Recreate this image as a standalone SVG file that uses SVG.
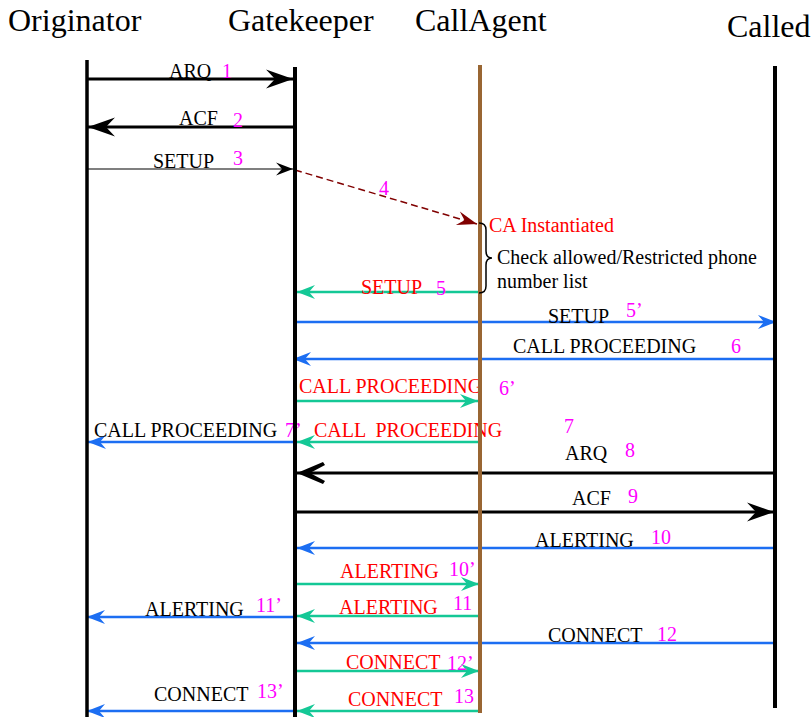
<svg xmlns="http://www.w3.org/2000/svg" width="811" height="717" viewBox="0 0 811 717">
<style>
.hd{font-family:"Liberation Serif","Times New Roman",serif;font-size:32px;fill:#000}
.lb{font-family:"Liberation Serif","Times New Roman",serif;font-size:20px;fill:#000;white-space:pre}
.rd{fill:#ff0000}
.nm{font-family:"Liberation Serif","Times New Roman",serif;font-size:20px;fill:#ff00ff;white-space:pre}
.life{stroke:#000;stroke-width:4;fill:none}
.ca{stroke:#996633;stroke-width:4;fill:none}
.blk{stroke:#000;stroke-width:3;fill:none;marker-end:url(#ahBig)}
.thin{stroke:#000;stroke-width:1.2;fill:none;marker-end:url(#ahThin)}
.blu{stroke:#1c6ef2;stroke-width:2.5;fill:none;marker-end:url(#ahBlue)}
.grn{stroke:#14c896;stroke-width:2.5;fill:none;marker-end:url(#ahGreen)}
.dsh{stroke:#800000;stroke-width:1.5;stroke-dasharray:7 4;fill:none;marker-end:url(#ahMar)}
</style>
<defs>
<marker id="ahBig" markerUnits="userSpaceOnUse" markerWidth="32" markerHeight="24" viewBox="-30 -12 32 24" refX="0" refY="0" orient="auto"><path d="M0,0 L-27,-9.5 L-18,0 L-27,9.5 Z" fill="#000"/></marker>
<marker id="ahChev" markerUnits="userSpaceOnUse" markerWidth="32" markerHeight="26" viewBox="-30 -13 32 26" refX="0" refY="0" orient="auto"><path d="M0,0 L-26,-11 L-28,-8 L-13,0 L-28,8 L-26,11 Z" fill="#000"/></marker>
<marker id="ahThin" markerUnits="userSpaceOnUse" markerWidth="22" markerHeight="16" viewBox="-20 -8 22 16" refX="0" refY="0" orient="auto"><path d="M0,0 L-17,-6.5 L-11,0 L-17,6.5 Z" fill="#000"/></marker>
<marker id="ahBlue" markerUnits="userSpaceOnUse" markerWidth="22" markerHeight="18" viewBox="-20 -9 22 18" refX="0" refY="0" orient="auto"><path d="M0,0 L-18,-7 L-12,0 L-18,7 Z" fill="#1c6ef2"/></marker>
<marker id="ahGreen" markerUnits="userSpaceOnUse" markerWidth="22" markerHeight="18" viewBox="-20 -9 22 18" refX="0" refY="0" orient="auto"><path d="M0,0 L-18,-7 L-12,0 L-18,7 Z" fill="#14c896"/></marker>
<marker id="ahMar" markerUnits="userSpaceOnUse" markerWidth="24" markerHeight="18" viewBox="-22 -9 24 18" refX="0" refY="0" orient="auto"><path d="M0,0 L-20,-7 L-13,0 L-20,7 Z" fill="#800000"/></marker>
</defs>
<rect x="0" y="0" width="811" height="717" fill="#fff"/>

<g id="connectors">
<line class="blk" x1="87" y1="79" x2="293" y2="79"/>
<text class="lb" x="169" y="78">ARQ</text><text class="nm" x="222" y="78">1</text>

<line class="blk" x1="293" y1="127" x2="88" y2="127"/>
<text class="lb" x="179" y="125">ACF</text><text class="nm" x="233" y="127">2</text>

<line class="thin" x1="87" y1="169" x2="293" y2="169"/>
<text class="lb" x="153" y="168">SETUP</text><text class="nm" x="233" y="165">3</text>

<line class="dsh" x1="295" y1="170" x2="477" y2="224"/>
<text class="nm" x="379" y="195">4</text>

<line class="grn" x1="478" y1="292" x2="297" y2="292"/>
<text class="lb rd" x="361" y="294">SETUP</text><text class="nm" x="436" y="295">5</text>

<line class="blu" x1="297" y1="322" x2="776" y2="322"/>
<text class="lb" x="548" y="323">SETUP</text><text class="nm" x="626" y="317">5’</text>

<line class="blu" x1="775" y1="359" x2="293" y2="359"/>
<text class="lb" x="513" y="353">CALL PROCEEDING</text><text class="nm" x="731" y="353">6</text>

<line class="grn" x1="297" y1="401" x2="478" y2="401"/>
<text class="lb rd" x="299" y="393">CALL PROCEEDING</text><text class="nm" x="499" y="395">6’</text>

<line class="blu" x1="295" y1="442" x2="88" y2="442"/>
<text class="lb" x="94" y="437">CALL PROCEEDING</text><text class="nm" x="285" y="437">7’</text>

<line class="grn" x1="482" y1="442" x2="297" y2="442"/>
<text class="lb rd" x="314" y="437">CALL  PROCEEDING</text><text class="nm" x="564" y="433">7</text>

<line class="blk" x1="777" y1="473" x2="297" y2="473" style="marker-end:url(#ahChev)"/>
<text class="lb" x="565" y="460">ARQ</text><text class="nm" x="625" y="457">8</text>

<line class="blk" x1="297" y1="512" x2="774" y2="512"/>
<text class="lb" x="572" y="505">ACF</text><text class="nm" x="628" y="503">9</text>

<line class="blu" x1="775" y1="548" x2="297" y2="548"/>
<text class="lb" x="535" y="547">ALERTING</text><text class="nm" x="651" y="544">10</text>

<line class="grn" x1="297" y1="584" x2="479" y2="584"/>
<text class="lb rd" x="340" y="578">ALERTING</text><text class="nm" x="449" y="576">10’</text>

<line class="grn" x1="479" y1="616" x2="297" y2="616"/>
<text class="lb rd" x="339" y="614">ALERTING</text><text class="nm" x="453" y="610">11</text>

<line class="blu" x1="293" y1="617" x2="87" y2="617"/>
<text class="lb" x="145" y="616">ALERTING</text><text class="nm" x="256" y="612">11’</text>

<line class="blu" x1="775" y1="643" x2="297" y2="643"/>
<text class="lb" x="548" y="642">CONNECT</text><text class="nm" x="657" y="641">12</text>

<line class="grn" x1="297" y1="671" x2="479" y2="671"/>
<text class="lb rd" x="346" y="669">CONNECT</text><text class="nm" x="447" y="670">12’</text>

<line class="grn" x1="478" y1="711" x2="297" y2="711"/>
<text class="lb rd" x="348" y="706">CONNECT</text><text class="nm" x="454" y="703">13</text>

<line class="blu" x1="293" y1="711" x2="87" y2="711"/>
<text class="lb" x="154" y="701">CONNECT</text><text class="nm" x="257" y="698">13’</text>
</g>

<g id="originator">
<text class="hd" x="8" y="31">Originator</text>
<line class="life" x1="87" y1="60" x2="87" y2="717" style="stroke-width:3.5"/>
</g>
<g id="gatekeeper">
<text class="hd" x="228" y="31">Gatekeeper</text>
<line class="life" x1="295" y1="67" x2="295" y2="717"/>
</g>
<g id="callagent">
<text class="hd" x="415" y="31">CallAgent</text>
<line class="ca" x1="480" y1="65" x2="480" y2="713"/>
</g>
<g id="called">
<text class="hd" x="727" y="37">Called</text>
<line class="life" x1="775" y1="66" x2="775" y2="708"/>
</g>
<g id="ca-note">
<text class="lb rd" x="489" y="232">CA Instantiated</text>
<path d="M479,223 Q486,223 486,230 L486,251 Q486,258 492,258 Q486,258 486,265 L486,286 Q486,293 479,293" fill="none" stroke="#000" stroke-width="1.5"/>
<text class="lb" x="497" y="264">Check allowed/Restricted phone</text>
<text class="lb" x="497" y="288">number list</text>
</g>
</svg>
